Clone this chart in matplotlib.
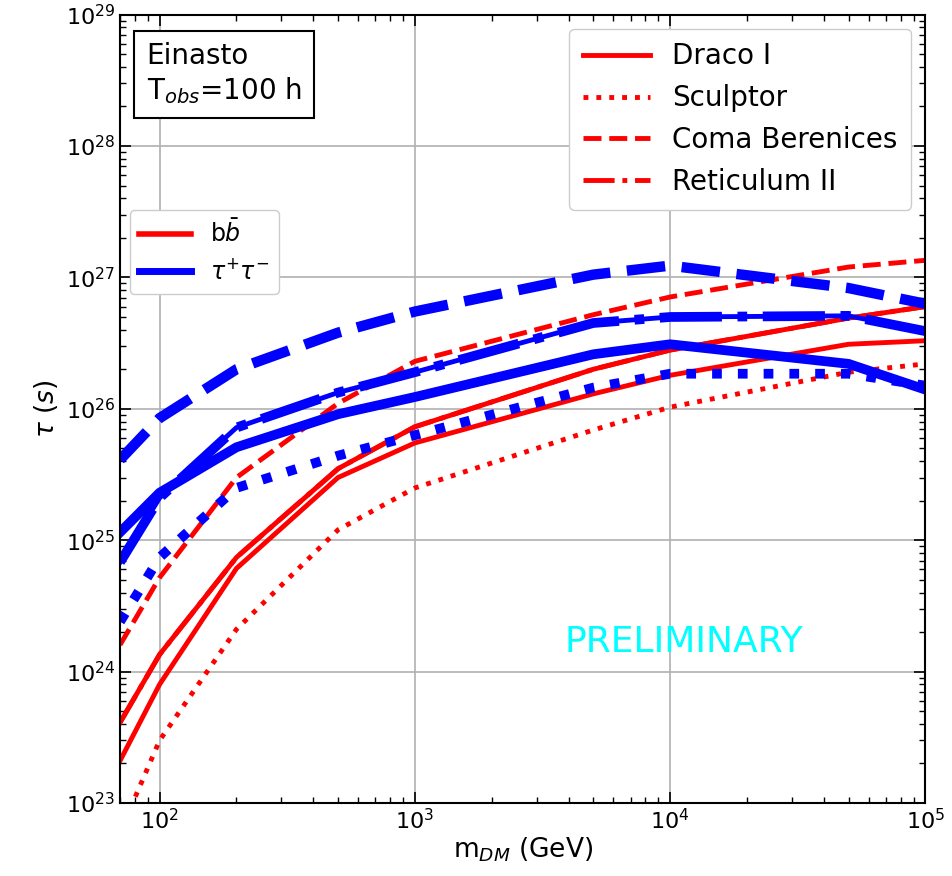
import numpy as np
import matplotlib
matplotlib.use('Agg')
import matplotlib.pyplot as plt
from matplotlib.lines import Line2D

# DM masses (GeV)
mass = [70, 100, 200, 500, 1000, 5000, 10000, 50000, 100000]

# lifetime limits (s), b bbar channel
draco_bb = [2.1e23, 8.0e23, 6.1e24, 3.0e25, 5.5e25, 1.3e26, 1.8e26, 3.1e26, 3.3e26]
sculptor_bb = [6.0e22, 3.0e23, 2.1e24, 1.2e25, 2.5e25, 6.9e25, 1.03e26, 1.9e26, 2.2e26]
coma_bb = [1.6e24, 5.2e24, 3.0e25, 1.1e26, 2.3e26, 5.2e26, 7.1e26, 1.2e27, 1.35e27]
reticulum_bb = [4.1e23, 1.35e24, 7.4e24, 3.5e25, 7.3e25, 2.0e26, 2.8e26, 4.9e26, 6.0e26]

# tau+ tau- channel
draco_tt = [1.15e25, 2.3e25, 5.1e25, 9.1e25, 1.23e26, 2.6e26, 3.1e26, 2.2e26, 1.4e26]
sculptor_tt = [2.4e24, 7.4e24, 2.5e25, 4.4e25, 6.3e25, 1.45e26, 1.85e26, 1.85e26, 1.5e26]
coma_tt = [4.1e25, 8.5e25, 2.0e26, 3.8e26, 5.5e26, 1.05e27, 1.23e27, 8.3e26, 6.3e26]
reticulum_tt = [6.8e24, 2.1e25, 7.2e25, 1.33e26, 1.9e26, 4.5e26, 5.0e26, 5.1e26, 3.9e26]

fig = plt.figure(figsize=(9.53, 8.76), dpi=100)
ax = fig.add_axes([0.126, 0.0833, 0.845, 0.9])

lw_r = 3.5
lw_b = 7

# b bbar
ax.plot(mass, draco_bb, color='red', ls='-', lw=lw_r)
ax.plot(mass, sculptor_bb, color='red', ls=':', lw=lw_r)
ax.plot(mass, coma_bb, color='red', ls='--', lw=lw_r)
ax.plot(mass, reticulum_bb, color='red', ls='-', lw=lw_r)
ax.plot(mass, reticulum_bb, color='red', ls='-.', lw=lw_r)

# tau tau
ax.plot(mass, draco_tt, color='blue', ls='-', lw=lw_b)
ax.plot(mass, sculptor_tt, color='blue', ls=':', lw=lw_b)
ax.plot(mass, coma_tt, color='blue', ls='--', lw=7.5)
ax.plot(mass, reticulum_tt, color='blue', ls='-', lw=lw_r)
ax.plot(mass, reticulum_tt, color='blue', ls='-.', lw=lw_b)

ax.set_xscale('log')
ax.set_yscale('log')
ax.set_xlim(70, 1e5)
ax.set_ylim(1e23, 1e29)
ax.grid(True, which='major', color='#b0b0b0', lw=1.2)

ax.tick_params(which='both', direction='in', top=True, right=True, labelsize=16)
ax.tick_params(which='major', length=8, width=1.2)
ax.tick_params(which='minor', length=4, width=1)
for s in ax.spines.values():
    s.set_linewidth(1.5)

ax.set_xlabel(r'm$_{DM}$ (GeV)', fontsize=19, labelpad=2)
ax.set_ylabel(r'$\tau$ $(s)$', fontsize=19)

ax.text(0.033, 0.965, 'Einasto\nT$_{obs}$=100 h', transform=ax.transAxes,
        fontsize=20, va='top', ha='left',
        bbox=dict(boxstyle='square,pad=0.45', fc='white', ec='black', lw=1.5))

ax.text(0.70, 0.204, 'PRELIMINARY', transform=ax.transAxes, color='cyan',
        fontsize=26, ha='center', va='center')

h1 = [Line2D([], [], color='red', ls='-', lw=lw_r),
      Line2D([], [], color='red', ls=':', lw=lw_r),
      Line2D([], [], color='red', ls='--', lw=lw_r),
      Line2D([], [], color='red', ls='-.', lw=lw_r)]
leg1 = ax.legend(h1, ['Draco I', 'Sculptor', 'Coma Berenices', 'Reticulum II'],
                 loc='upper right', fontsize=20, handlelength=2.4,
                 borderpad=0.5, borderaxespad=0.5, framealpha=1)
ax.add_artist(leg1)

h2 = [Line2D([], [], color='red', lw=4), Line2D([], [], color='blue', lw=5)]
ax.legend(h2, [r'b$\bar{b}$', r'$\tau^{+}\tau^{-}$'], loc='upper left',
          bbox_to_anchor=(0.0, 0.764), fontsize=17, handlelength=2.2,
          borderaxespad=0.4, framealpha=1)

fig.savefig('out.png', dpi=100)
